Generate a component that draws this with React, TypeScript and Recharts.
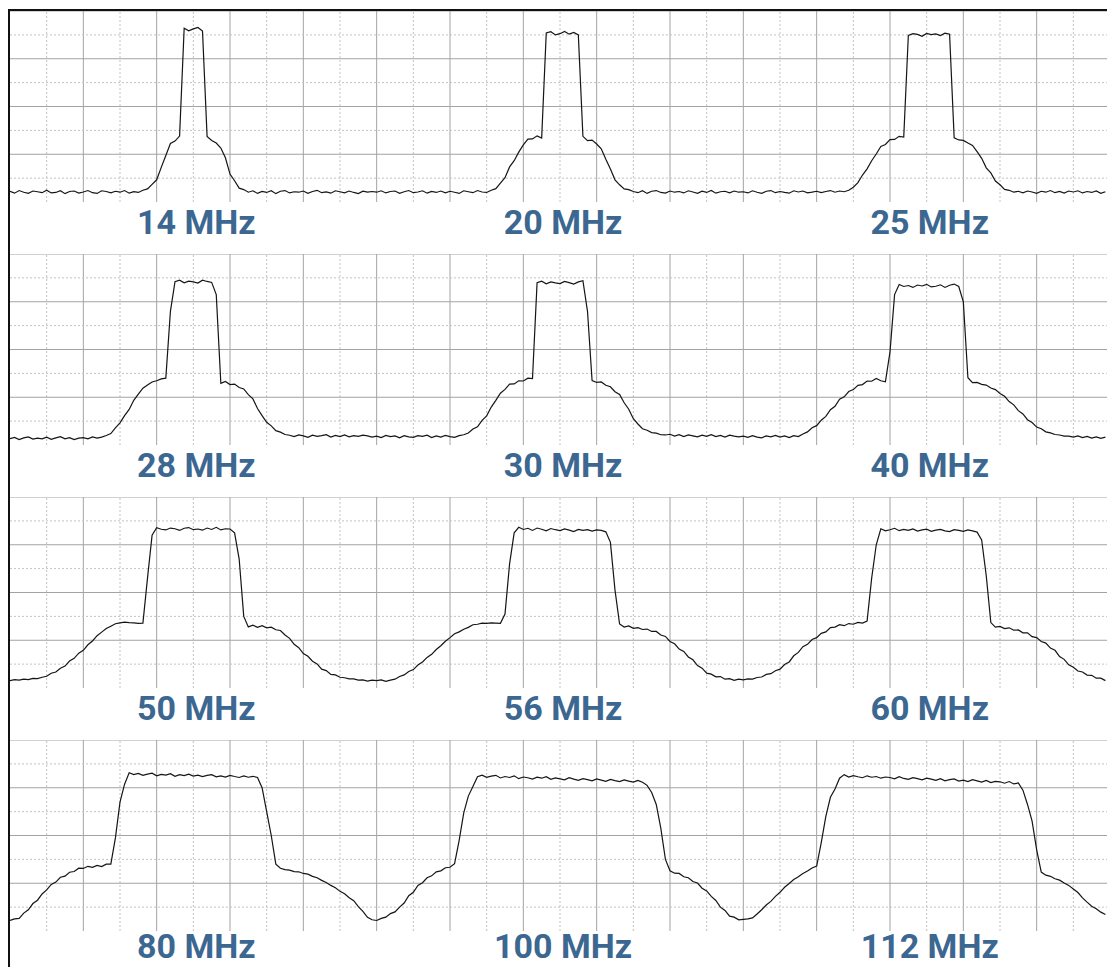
import { LineChart, Line, XAxis, YAxis, ReferenceLine } from "recharts";

// one sample every 1/8 of a grid division, 80 samples per 10-division panel
const STEP = 0.125;

const labelTicks = [5, 15, 25];
const gridX = [1, 2, 3, 4, 5, 6, 7, 8, 9, 10, 11, 12, 13, 14, 15, 16, 17, 18, 19, 20, 21, 22, 23, 24, 25, 26, 27, 28, 29];
const gridY = [1, 2, 3, 4, 5, 6, 7, 8];

const row1Labels = ["14 MHz", "20 MHz", "25 MHz"];
const row2Labels = ["28 MHz", "30 MHz", "40 MHz"];
const row3Labels = ["50 MHz", "56 MHz", "60 MHz"];
const row4Labels = ["80 MHz", "100 MHz", "112 MHz"];

// levels in grid divisions above the bottom of each panel
const trace14 = [
  0.45, 0.37, 0.48, 0.41, 0.36, 0.46, 0.43, 0.39,
  0.49, 0.38, 0.40, 0.47, 0.35, 0.44, 0.46, 0.37,
  0.42, 0.48, 0.39, 0.36, 0.47, 0.44, 0.38, 0.45,
  0.41, 0.48, 0.37, 0.43, 0.40, 0.49, 0.55, 0.74,
  0.93, 1.45, 1.95, 2.45, 2.55, 2.76, 7.28, 7.17,
  7.25, 7.31, 7.16, 2.74, 2.58, 2.47, 2.26, 1.85,
  1.17, 0.89, 0.58, 0.52, 0.41, 0.47, 0.36, 0.44,
  0.40, 0.47, 0.35, 0.45, 0.48, 0.38, 0.43, 0.41,
  0.46, 0.36, 0.44, 0.49, 0.39, 0.42, 0.37, 0.47,
  0.43, 0.38, 0.46, 0.40, 0.35, 0.45, 0.41, 0.44,
];
const trace20 = [
  0.41, 0.47, 0.38, 0.44, 0.46, 0.36, 0.43, 0.48,
  0.39, 0.42, 0.47, 0.37, 0.44, 0.40, 0.46, 0.38,
  0.45, 0.41, 0.36, 0.47, 0.43, 0.39, 0.48, 0.42,
  0.40, 0.49, 0.56, 0.79, 1.02, 1.47, 1.73, 2.09,
  2.39, 2.63, 2.64, 2.77, 2.68, 7.08, 7.13, 7.00,
  7.05, 7.14, 7.03, 7.10, 7.00, 2.75, 2.57, 2.59,
  2.43, 2.23, 1.79, 1.38, 0.93, 0.72, 0.55, 0.52,
  0.44, 0.39, 0.47, 0.36, 0.45, 0.48, 0.40, 0.37,
  0.46, 0.41, 0.44, 0.38, 0.47, 0.42, 0.36, 0.45,
  0.40, 0.48, 0.37, 0.43, 0.45, 0.38, 0.46, 0.41,
];
const trace25 = [
  0.43, 0.38, 0.47, 0.41, 0.36, 0.45, 0.48, 0.39,
  0.44, 0.40, 0.37, 0.47, 0.42, 0.46, 0.38, 0.41,
  0.45, 0.39, 0.44, 0.48, 0.41, 0.46, 0.43, 0.49,
  0.62, 0.81, 1.13, 1.39, 1.73, 2.01, 2.33, 2.41,
  2.61, 2.62, 2.75, 2.72, 6.98, 7.05, 7.02, 6.94,
  7.06, 7.01, 7.04, 6.97, 7.07, 7.03, 2.69, 2.60,
  2.58, 2.47, 2.37, 2.11, 1.83, 1.43, 1.22, 0.88,
  0.72, 0.53, 0.49, 0.41, 0.45, 0.38, 0.46, 0.42,
  0.36, 0.45, 0.41, 0.48, 0.39, 0.44, 0.37, 0.46,
  0.42, 0.47, 0.38, 0.44, 0.40, 0.46, 0.36, 0.43,
];

const trace28 = [
  0.27, 0.32, 0.23, 0.30, 0.34, 0.25, 0.29, 0.26,
  0.33, 0.24, 0.30, 0.35, 0.26, 0.31, 0.23, 0.29,
  0.31, 0.26, 0.34, 0.29, 0.33, 0.40, 0.48, 0.72,
  0.93, 1.23, 1.49, 1.87, 2.13, 2.38, 2.51, 2.64,
  2.69, 2.77, 2.80, 5.60, 6.84, 6.90, 6.79, 6.86,
  6.83, 6.78, 6.90, 6.85, 6.81, 6.30, 2.58, 2.66,
  2.53, 2.55, 2.41, 2.35, 2.11, 1.93, 1.53, 1.23,
  0.95, 0.80, 0.60, 0.54, 0.44, 0.41, 0.35, 0.42,
  0.38, 0.32, 0.41, 0.36, 0.39, 0.43, 0.33, 0.40,
  0.35, 0.42, 0.34, 0.39, 0.36, 0.41, 0.38, 0.33,
];
const trace30 = [
  0.37, 0.31, 0.40, 0.35, 0.38, 0.30, 0.39, 0.34,
  0.32, 0.39, 0.36, 0.41, 0.31, 0.38, 0.33, 0.40,
  0.35, 0.32, 0.39, 0.43, 0.50, 0.67, 0.76, 1.03,
  1.22, 1.59, 1.87, 2.17, 2.33, 2.55, 2.56, 2.69,
  2.68, 2.80, 2.78, 6.80, 6.86, 6.75, 6.83, 6.79,
  6.76, 6.85, 6.80, 6.74, 6.83, 6.88, 5.60, 2.70,
  2.62, 2.64, 2.50, 2.44, 2.23, 2.12, 1.77, 1.50,
  1.10, 0.88, 0.68, 0.62, 0.52, 0.50, 0.43, 0.42,
  0.45, 0.37, 0.43, 0.35, 0.42, 0.38, 0.34, 0.41,
  0.36, 0.43, 0.35, 0.40, 0.33, 0.41, 0.37, 0.34,
];
const trace40 = [
  0.37, 0.32, 0.39, 0.33, 0.30, 0.38, 0.34, 0.40,
  0.33, 0.38, 0.31, 0.39, 0.35, 0.46, 0.55, 0.72,
  0.81, 1.04, 1.20, 1.48, 1.62, 1.92, 2.02, 2.24,
  2.32, 2.50, 2.53, 2.68, 2.67, 2.79, 2.69, 2.65,
  3.90, 6.30, 6.72, 6.64, 6.68, 6.60, 6.70, 6.66,
  6.73, 6.62, 6.65, 6.71, 6.60, 6.69, 6.74, 6.64,
  6.00, 2.82, 2.61, 2.62, 2.54, 2.51, 2.39, 2.32,
  2.16, 2.04, 1.82, 1.68, 1.44, 1.30, 1.06, 0.94,
  0.75, 0.68, 0.55, 0.51, 0.44, 0.42, 0.37, 0.37,
  0.33, 0.38, 0.31, 0.36, 0.29, 0.34, 0.28, 0.33,
];

const trace50 = [
  0.31, 0.35, 0.33, 0.37, 0.35, 0.40, 0.39, 0.45,
  0.49, 0.62, 0.67, 0.83, 0.92, 1.13, 1.24, 1.46,
  1.58, 1.81, 1.97, 2.19, 2.34, 2.49, 2.59, 2.69,
  2.73, 2.76, 2.74, 2.73, 2.71, 2.72, 4.60, 6.40,
  6.71, 6.65, 6.62, 6.70, 6.67, 6.60, 6.69, 6.72,
  6.63, 6.66, 6.61, 6.70, 6.64, 6.73, 6.62, 6.67,
  6.66, 6.50, 5.40, 3.00, 2.56, 2.63, 2.54, 2.61,
  2.52, 2.55, 2.44, 2.41, 2.22, 2.08, 1.83, 1.69,
  1.44, 1.33, 1.12, 1.01, 0.79, 0.73, 0.57, 0.55,
  0.45, 0.43, 0.38, 0.38, 0.33, 0.34, 0.29, 0.33,
];
const trace56 = [
  0.31, 0.34, 0.28, 0.33, 0.37, 0.48, 0.55, 0.69,
  0.77, 0.96, 1.09, 1.28, 1.41, 1.61, 1.77, 1.96,
  2.11, 2.27, 2.35, 2.46, 2.54, 2.65, 2.67, 2.72,
  2.71, 2.73, 2.72, 2.71, 3.10, 5.20, 6.50, 6.73,
  6.64, 6.69, 6.60, 6.70, 6.65, 6.58, 6.68, 6.63,
  6.59, 6.66, 6.61, 6.55, 6.64, 6.60, 6.63, 6.57,
  6.62, 6.60, 6.54, 6.10, 4.10, 2.68, 2.55, 2.60,
  2.50, 2.53, 2.45, 2.47, 2.37, 2.37, 2.22, 2.16,
  1.95, 1.85, 1.63, 1.53, 1.30, 1.18, 0.94, 0.83,
  0.62, 0.58, 0.47, 0.48, 0.37, 0.39, 0.32, 0.37,
];
const trace60 = [
  0.34, 0.38, 0.37, 0.44, 0.46, 0.57, 0.60, 0.72,
  0.79, 0.98, 1.09, 1.35, 1.49, 1.73, 1.83, 2.03,
  2.11, 2.29, 2.35, 2.53, 2.55, 2.65, 2.61, 2.70,
  2.67, 2.75, 2.72, 2.80, 4.60, 6.00, 6.67, 6.58,
  6.63, 6.69, 6.59, 6.64, 6.60, 6.66, 6.57, 6.62,
  6.65, 6.56, 6.61, 6.64, 6.58, 6.55, 6.63, 6.60,
  6.56, 6.62, 6.58, 6.53, 6.20, 4.70, 2.74, 2.55,
  2.58, 2.49, 2.52, 2.42, 2.43, 2.31, 2.31, 2.15,
  2.11, 1.95, 1.88, 1.67, 1.58, 1.32, 1.20, 0.97,
  0.87, 0.71, 0.67, 0.54, 0.53, 0.41, 0.41, 0.31,
];

const trace80 = [
  0.44, 0.51, 0.53, 0.75, 0.89, 1.15, 1.29, 1.55,
  1.72, 1.95, 2.05, 2.25, 2.30, 2.46, 2.49, 2.63,
  2.62, 2.71, 2.67, 2.75, 2.70, 2.80, 2.80, 3.90,
  5.40, 6.15, 6.63, 6.55, 6.60, 6.52, 6.57, 6.61,
  6.50, 6.56, 6.53, 6.59, 6.48, 6.55, 6.51, 6.57,
  6.49, 6.53, 6.47, 6.52, 6.55, 6.46, 6.50, 6.45,
  6.52, 6.47, 6.43, 6.50, 6.44, 6.48, 6.43, 6.00,
  5.00, 4.00, 2.80, 2.63, 2.57, 2.55, 2.49, 2.48,
  2.41, 2.38, 2.29, 2.23, 2.12, 2.03, 1.91, 1.81,
  1.66, 1.56, 1.39, 1.27, 1.02, 0.82, 0.57, 0.47,
];
const trace100 = [
  0.44, 0.53, 0.58, 0.73, 0.80, 1.00, 1.17, 1.48,
  1.62, 1.91, 2.02, 2.23, 2.31, 2.48, 2.52, 2.65,
  2.67, 2.82, 3.80, 4.95, 5.65, 6.05, 6.46, 6.53,
  6.44, 6.49, 6.52, 6.41, 6.47, 6.43, 6.50, 6.38,
  6.45, 6.42, 6.36, 6.44, 6.40, 6.46, 6.35, 6.41,
  6.37, 6.33, 6.42, 6.36, 6.31, 6.38, 6.34, 6.29,
  6.37, 6.32, 6.27, 6.35, 6.30, 6.26, 6.33, 6.28,
  6.24, 6.31, 6.23, 6.10, 5.80, 5.30, 4.30, 3.00,
  2.52, 2.42, 2.41, 2.27, 2.23, 2.07, 2.01, 1.79,
  1.68, 1.45, 1.28, 1.00, 0.86, 0.62, 0.58, 0.47,
];
const trace112 = [
  0.49, 0.51, 0.55, 0.71, 0.89, 1.09, 1.24, 1.45,
  1.62, 1.83, 1.99, 2.16, 2.27, 2.41, 2.51, 2.64,
  2.72, 3.70, 4.80, 5.60, 5.95, 6.40, 6.55, 6.45,
  6.51, 6.46, 6.42, 6.50, 6.44, 6.47, 6.40, 6.45,
  6.43, 6.37, 6.46, 6.39, 6.35, 6.42, 6.38, 6.33,
  6.40, 6.36, 6.31, 6.38, 6.29, 6.34, 6.37, 6.28,
  6.32, 6.26, 6.34, 6.29, 6.24, 6.31, 6.22, 6.27,
  6.25, 6.19, 6.26, 6.16, 6.20, 5.90, 5.30, 4.60,
  3.40, 2.47, 2.34, 2.29, 2.19, 2.13, 2.01, 1.91,
  1.76, 1.61, 1.39, 1.21, 1.04, 0.93, 0.79, 0.69,
];

const MAJOR = "#a3a3a3";
const MINOR = "#c2c2c2";
const LABEL = "#3b6791";

function SpectrumRow({ traces, labels, labelDy = 32 }: { traces: number[][]; labels: string[]; labelDy?: number }) {
  const data = traces.flat().map((level, i) => ({ div: i * STEP, level }));

  const renderTick = (props: any) => {
    const { x, y, payload } = props;
    const idx = labelTicks.indexOf(payload.value);
    return (
      <text
        x={x + 3}
        y={y + labelDy}
        textAnchor="middle"
        fill={LABEL}
        fontFamily="Roboto, 'Open Sans', sans-serif"
        fontWeight={700}
        fontSize={34}
      >
        {labels[idx]}
      </text>
    );
  };

  return (
    <LineChart width={1100} height={243} data={data} margin={{ top: 0, right: 0, bottom: 0, left: 0 }}>
      <XAxis
        type="number"
        dataKey="div"
        domain={[0, 30]}
        ticks={labelTicks}
        interval={0}
        axisLine={false}
        tickLine={false}
        tickSize={0}
        tickMargin={0}
        height={52}
        tick={renderTick}
      />
      <YAxis type="number" domain={[0, 8]} hide />
      {gridX.map((v) => (
        <ReferenceLine
          key={"x" + v}
          x={v}
          stroke={v % 2 === 0 ? MAJOR : MINOR}
          strokeDasharray={v % 2 === 0 ? undefined : "2 2"}
          strokeWidth={1}
        />
      ))}
      {gridY.map((v) => (
        <ReferenceLine
          key={"y" + v}
          y={v}
          stroke={v % 2 === 0 ? MAJOR : MINOR}
          strokeDasharray={v % 2 === 0 ? undefined : "2 2"}
          strokeWidth={1}
        />
      ))}
      <Line
        type="linear"
        dataKey="level"
        stroke="#151515"
        strokeWidth={1.2}
        dot={false}
        isAnimationActive={false}
      />
    </LineChart>
  );
}

export default function App() {
  return (
    <div
      style={{
        position: "absolute",
        left: 8,
        top: 9,
        width: 1099,
        height: 958,
        overflow: "hidden",
        boxSizing: "border-box",
        borderLeft: "2px solid #111",
        borderTop: "2px solid #111",
        background: "#fff",
      }}
    >
      <SpectrumRow traces={[trace14, trace20, trace25]} labels={row1Labels} />
      <SpectrumRow traces={[trace28, trace30, trace40]} labels={row2Labels} />
      <SpectrumRow traces={[trace50, trace56, trace60]} labels={row3Labels} />
      <SpectrumRow traces={[trace80, trace100, trace112]} labels={row4Labels} labelDy={27} />
    </div>
  );
}
